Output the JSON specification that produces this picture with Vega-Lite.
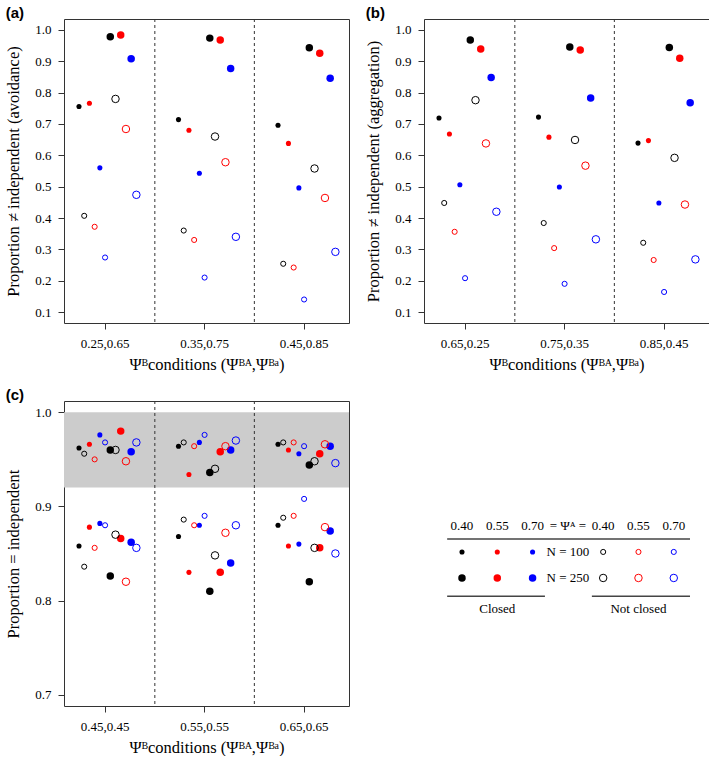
{
  "$schema": "https://vega.github.io/schema/vega-lite/v6.json",
  "padding": {"left": 5, "top": 5, "right": 0, "bottom": 0},
  "config": {
    "view": {"stroke": "#333333", "strokeWidth": 1},
    "axis": {"domain": false, "grid": false, "tickColor": "#333333", "tickSize": 6, "labelFont": "Liberation Serif", "labelFontSize": 13, "labelColor": "#000000", "titleFont": "Liberation Serif", "titleFontSize": 16.5, "titleFontWeight": "normal", "titleColor": "#000000", "labelFlush": false, "labelOverlap": false},
    "title": {"font": "Liberation Sans", "fontSize": 15, "fontWeight": "bold", "anchor": "start", "frame": "bounds", "offset": -2, "color": "#000000"}
  },
  "datasets": {
    "pts": [
      {"p":"a","c":"0.25,0.65","k":"s40c","A":"0.40","N":100,"cl":"C","v":0.756},
      {"p":"a","c":"0.25,0.65","k":"s40o","A":"0.40","N":100,"cl":"O","v":0.407},
      {"p":"a","c":"0.25,0.65","k":"s55c","A":"0.55","N":100,"cl":"C","v":0.766},
      {"p":"a","c":"0.25,0.65","k":"s55o","A":"0.55","N":100,"cl":"O","v":0.372},
      {"p":"a","c":"0.25,0.65","k":"s70c","A":"0.70","N":100,"cl":"C","v":0.560},
      {"p":"a","c":"0.25,0.65","k":"s70o","A":"0.70","N":100,"cl":"O","v":0.274},
      {"p":"a","c":"0.25,0.65","k":"l40c","A":"0.40","N":250,"cl":"C","v":0.978},
      {"p":"a","c":"0.25,0.65","k":"l40o","A":"0.40","N":250,"cl":"O","v":0.780},
      {"p":"a","c":"0.25,0.65","k":"l55c","A":"0.55","N":250,"cl":"C","v":0.984},
      {"p":"a","c":"0.25,0.65","k":"l55o","A":"0.55","N":250,"cl":"O","v":0.684},
      {"p":"a","c":"0.25,0.65","k":"l70c","A":"0.70","N":250,"cl":"C","v":0.908},
      {"p":"a","c":"0.25,0.65","k":"l70o","A":"0.70","N":250,"cl":"O","v":0.474},
      {"p":"a","c":"0.35,0.75","k":"s40c","A":"0.40","N":100,"cl":"C","v":0.714},
      {"p":"a","c":"0.35,0.75","k":"s40o","A":"0.40","N":100,"cl":"O","v":0.360},
      {"p":"a","c":"0.35,0.75","k":"s55c","A":"0.55","N":100,"cl":"C","v":0.680},
      {"p":"a","c":"0.35,0.75","k":"s55o","A":"0.55","N":100,"cl":"O","v":0.330},
      {"p":"a","c":"0.35,0.75","k":"s70c","A":"0.70","N":100,"cl":"C","v":0.543},
      {"p":"a","c":"0.35,0.75","k":"s70o","A":"0.70","N":100,"cl":"O","v":0.210},
      {"p":"a","c":"0.35,0.75","k":"l40c","A":"0.40","N":250,"cl":"C","v":0.974},
      {"p":"a","c":"0.35,0.75","k":"l40o","A":"0.40","N":250,"cl":"O","v":0.660},
      {"p":"a","c":"0.35,0.75","k":"l55c","A":"0.55","N":250,"cl":"C","v":0.968},
      {"p":"a","c":"0.35,0.75","k":"l55o","A":"0.55","N":250,"cl":"O","v":0.578},
      {"p":"a","c":"0.35,0.75","k":"l70c","A":"0.70","N":250,"cl":"C","v":0.877},
      {"p":"a","c":"0.35,0.75","k":"l70o","A":"0.70","N":250,"cl":"O","v":0.340},
      {"p":"a","c":"0.45,0.85","k":"s40c","A":"0.40","N":100,"cl":"C","v":0.696},
      {"p":"a","c":"0.45,0.85","k":"s40o","A":"0.40","N":100,"cl":"O","v":0.254},
      {"p":"a","c":"0.45,0.85","k":"s55c","A":"0.55","N":100,"cl":"C","v":0.638},
      {"p":"a","c":"0.45,0.85","k":"s55o","A":"0.55","N":100,"cl":"O","v":0.242},
      {"p":"a","c":"0.45,0.85","k":"s70c","A":"0.70","N":100,"cl":"C","v":0.496},
      {"p":"a","c":"0.45,0.85","k":"s70o","A":"0.70","N":100,"cl":"O","v":0.140},
      {"p":"a","c":"0.45,0.85","k":"l40c","A":"0.40","N":250,"cl":"C","v":0.943},
      {"p":"a","c":"0.45,0.85","k":"l40o","A":"0.40","N":250,"cl":"O","v":0.558},
      {"p":"a","c":"0.45,0.85","k":"l55c","A":"0.55","N":250,"cl":"C","v":0.926},
      {"p":"a","c":"0.45,0.85","k":"l55o","A":"0.55","N":250,"cl":"O","v":0.464},
      {"p":"a","c":"0.45,0.85","k":"l70c","A":"0.70","N":250,"cl":"C","v":0.846},
      {"p":"a","c":"0.45,0.85","k":"l70o","A":"0.70","N":250,"cl":"O","v":0.292},

      {"p":"b","c":"0.65,0.25","k":"s40c","A":"0.40","N":100,"cl":"C","v":0.719},
      {"p":"b","c":"0.65,0.25","k":"s40o","A":"0.40","N":100,"cl":"O","v":0.448},
      {"p":"b","c":"0.65,0.25","k":"s55c","A":"0.55","N":100,"cl":"C","v":0.668},
      {"p":"b","c":"0.65,0.25","k":"s55o","A":"0.55","N":100,"cl":"O","v":0.356},
      {"p":"b","c":"0.65,0.25","k":"s70c","A":"0.70","N":100,"cl":"C","v":0.506},
      {"p":"b","c":"0.65,0.25","k":"s70o","A":"0.70","N":100,"cl":"O","v":0.208},
      {"p":"b","c":"0.65,0.25","k":"l40c","A":"0.40","N":250,"cl":"C","v":0.968},
      {"p":"b","c":"0.65,0.25","k":"l40o","A":"0.40","N":250,"cl":"O","v":0.776},
      {"p":"b","c":"0.65,0.25","k":"l55c","A":"0.55","N":250,"cl":"C","v":0.939},
      {"p":"b","c":"0.65,0.25","k":"l55o","A":"0.55","N":250,"cl":"O","v":0.638},
      {"p":"b","c":"0.65,0.25","k":"l70c","A":"0.70","N":250,"cl":"C","v":0.848},
      {"p":"b","c":"0.65,0.25","k":"l70o","A":"0.70","N":250,"cl":"O","v":0.420},
      {"p":"b","c":"0.75,0.35","k":"s40c","A":"0.40","N":100,"cl":"C","v":0.722},
      {"p":"b","c":"0.75,0.35","k":"s40o","A":"0.40","N":100,"cl":"O","v":0.384},
      {"p":"b","c":"0.75,0.35","k":"s55c","A":"0.55","N":100,"cl":"C","v":0.658},
      {"p":"b","c":"0.75,0.35","k":"s55o","A":"0.55","N":100,"cl":"O","v":0.304},
      {"p":"b","c":"0.75,0.35","k":"s70c","A":"0.70","N":100,"cl":"C","v":0.499},
      {"p":"b","c":"0.75,0.35","k":"s70o","A":"0.70","N":100,"cl":"O","v":0.190},
      {"p":"b","c":"0.75,0.35","k":"l40c","A":"0.40","N":250,"cl":"C","v":0.946},
      {"p":"b","c":"0.75,0.35","k":"l40o","A":"0.40","N":250,"cl":"O","v":0.649},
      {"p":"b","c":"0.75,0.35","k":"l55c","A":"0.55","N":250,"cl":"C","v":0.936},
      {"p":"b","c":"0.75,0.35","k":"l55o","A":"0.55","N":250,"cl":"O","v":0.567},
      {"p":"b","c":"0.75,0.35","k":"l70c","A":"0.70","N":250,"cl":"C","v":0.783},
      {"p":"b","c":"0.75,0.35","k":"l70o","A":"0.70","N":250,"cl":"O","v":0.332},
      {"p":"b","c":"0.85,0.45","k":"s40c","A":"0.40","N":100,"cl":"C","v":0.639},
      {"p":"b","c":"0.85,0.45","k":"s40o","A":"0.40","N":100,"cl":"O","v":0.321},
      {"p":"b","c":"0.85,0.45","k":"s55c","A":"0.55","N":100,"cl":"C","v":0.647},
      {"p":"b","c":"0.85,0.45","k":"s55o","A":"0.55","N":100,"cl":"O","v":0.266},
      {"p":"b","c":"0.85,0.45","k":"s70c","A":"0.70","N":100,"cl":"C","v":0.448},
      {"p":"b","c":"0.85,0.45","k":"s70o","A":"0.70","N":100,"cl":"O","v":0.164},
      {"p":"b","c":"0.85,0.45","k":"l40c","A":"0.40","N":250,"cl":"C","v":0.944},
      {"p":"b","c":"0.85,0.45","k":"l40o","A":"0.40","N":250,"cl":"O","v":0.592},
      {"p":"b","c":"0.85,0.45","k":"l55c","A":"0.55","N":250,"cl":"C","v":0.910},
      {"p":"b","c":"0.85,0.45","k":"l55o","A":"0.55","N":250,"cl":"O","v":0.443},
      {"p":"b","c":"0.85,0.45","k":"l70c","A":"0.70","N":250,"cl":"C","v":0.768},
      {"p":"b","c":"0.85,0.45","k":"l70o","A":"0.70","N":250,"cl":"O","v":0.268},

      {"p":"c","c":"0.45,0.45","k":"s40c","A":"0.40","N":100,"cl":"C","v":0.962},
      {"p":"c","c":"0.45,0.45","k":"s40o","A":"0.40","N":100,"cl":"O","v":0.956},
      {"p":"c","c":"0.45,0.45","k":"s55c","A":"0.55","N":100,"cl":"C","v":0.966},
      {"p":"c","c":"0.45,0.45","k":"s55o","A":"0.55","N":100,"cl":"O","v":0.950},
      {"p":"c","c":"0.45,0.45","k":"s70c","A":"0.70","N":100,"cl":"C","v":0.976},
      {"p":"c","c":"0.45,0.45","k":"s70o","A":"0.70","N":100,"cl":"O","v":0.968},
      {"p":"c","c":"0.45,0.45","k":"l40c","A":"0.40","N":250,"cl":"C","v":0.960},
      {"p":"c","c":"0.45,0.45","k":"l40o","A":"0.40","N":250,"cl":"O","v":0.960},
      {"p":"c","c":"0.45,0.45","k":"l55c","A":"0.55","N":250,"cl":"C","v":0.980},
      {"p":"c","c":"0.45,0.45","k":"l55o","A":"0.55","N":250,"cl":"O","v":0.948},
      {"p":"c","c":"0.45,0.45","k":"l70c","A":"0.70","N":250,"cl":"C","v":0.958},
      {"p":"c","c":"0.45,0.45","k":"l70o","A":"0.70","N":250,"cl":"O","v":0.968},
      {"p":"c","c":"0.45,0.45","k":"s40c","A":"0.40","N":100,"cl":"C","v":0.858},
      {"p":"c","c":"0.45,0.45","k":"s40o","A":"0.40","N":100,"cl":"O","v":0.836},
      {"p":"c","c":"0.45,0.45","k":"s55c","A":"0.55","N":100,"cl":"C","v":0.878},
      {"p":"c","c":"0.45,0.45","k":"s55o","A":"0.55","N":100,"cl":"O","v":0.856},
      {"p":"c","c":"0.45,0.45","k":"s70c","A":"0.70","N":100,"cl":"C","v":0.882},
      {"p":"c","c":"0.45,0.45","k":"s70o","A":"0.70","N":100,"cl":"O","v":0.880},
      {"p":"c","c":"0.45,0.45","k":"l40c","A":"0.40","N":250,"cl":"C","v":0.826},
      {"p":"c","c":"0.45,0.45","k":"l40o","A":"0.40","N":250,"cl":"O","v":0.870},
      {"p":"c","c":"0.45,0.45","k":"l55c","A":"0.55","N":250,"cl":"C","v":0.866},
      {"p":"c","c":"0.45,0.45","k":"l55o","A":"0.55","N":250,"cl":"O","v":0.820},
      {"p":"c","c":"0.45,0.45","k":"l70c","A":"0.70","N":250,"cl":"C","v":0.862},
      {"p":"c","c":"0.45,0.45","k":"l70o","A":"0.70","N":250,"cl":"O","v":0.856},
      {"p":"c","c":"0.55,0.55","k":"s40c","A":"0.40","N":100,"cl":"C","v":0.964},
      {"p":"c","c":"0.55,0.55","k":"s40o","A":"0.40","N":100,"cl":"O","v":0.968},
      {"p":"c","c":"0.55,0.55","k":"s55c","A":"0.55","N":100,"cl":"C","v":0.934},
      {"p":"c","c":"0.55,0.55","k":"s55o","A":"0.55","N":100,"cl":"O","v":0.964},
      {"p":"c","c":"0.55,0.55","k":"s70c","A":"0.70","N":100,"cl":"C","v":0.968},
      {"p":"c","c":"0.55,0.55","k":"s70o","A":"0.70","N":100,"cl":"O","v":0.976},
      {"p":"c","c":"0.55,0.55","k":"l40c","A":"0.40","N":250,"cl":"C","v":0.936},
      {"p":"c","c":"0.55,0.55","k":"l40o","A":"0.40","N":250,"cl":"O","v":0.940},
      {"p":"c","c":"0.55,0.55","k":"l55c","A":"0.55","N":250,"cl":"C","v":0.958},
      {"p":"c","c":"0.55,0.55","k":"l55o","A":"0.55","N":250,"cl":"O","v":0.964},
      {"p":"c","c":"0.55,0.55","k":"l70c","A":"0.70","N":250,"cl":"C","v":0.960},
      {"p":"c","c":"0.55,0.55","k":"l70o","A":"0.70","N":250,"cl":"O","v":0.970},
      {"p":"c","c":"0.55,0.55","k":"s40c","A":"0.40","N":100,"cl":"C","v":0.868},
      {"p":"c","c":"0.55,0.55","k":"s40o","A":"0.40","N":100,"cl":"O","v":0.886},
      {"p":"c","c":"0.55,0.55","k":"s55c","A":"0.55","N":100,"cl":"C","v":0.830},
      {"p":"c","c":"0.55,0.55","k":"s55o","A":"0.55","N":100,"cl":"O","v":0.880},
      {"p":"c","c":"0.55,0.55","k":"s70c","A":"0.70","N":100,"cl":"C","v":0.880},
      {"p":"c","c":"0.55,0.55","k":"s70o","A":"0.70","N":100,"cl":"O","v":0.890},
      {"p":"c","c":"0.55,0.55","k":"l40c","A":"0.40","N":250,"cl":"C","v":0.810},
      {"p":"c","c":"0.55,0.55","k":"l40o","A":"0.40","N":250,"cl":"O","v":0.848},
      {"p":"c","c":"0.55,0.55","k":"l55c","A":"0.55","N":250,"cl":"C","v":0.830},
      {"p":"c","c":"0.55,0.55","k":"l55o","A":"0.55","N":250,"cl":"O","v":0.872},
      {"p":"c","c":"0.55,0.55","k":"l70c","A":"0.70","N":250,"cl":"C","v":0.840},
      {"p":"c","c":"0.55,0.55","k":"l70o","A":"0.70","N":250,"cl":"O","v":0.880},
      {"p":"c","c":"0.65,0.65","k":"s40c","A":"0.40","N":100,"cl":"C","v":0.966},
      {"p":"c","c":"0.65,0.65","k":"s40o","A":"0.40","N":100,"cl":"O","v":0.968},
      {"p":"c","c":"0.65,0.65","k":"s55c","A":"0.55","N":100,"cl":"C","v":0.960},
      {"p":"c","c":"0.65,0.65","k":"s55o","A":"0.55","N":100,"cl":"O","v":0.968},
      {"p":"c","c":"0.65,0.65","k":"s70c","A":"0.70","N":100,"cl":"C","v":0.956},
      {"p":"c","c":"0.65,0.65","k":"s70o","A":"0.70","N":100,"cl":"O","v":0.964},
      {"p":"c","c":"0.65,0.65","k":"l40c","A":"0.40","N":250,"cl":"C","v":0.944},
      {"p":"c","c":"0.65,0.65","k":"l40o","A":"0.40","N":250,"cl":"O","v":0.948},
      {"p":"c","c":"0.65,0.65","k":"l55c","A":"0.55","N":250,"cl":"C","v":0.956},
      {"p":"c","c":"0.65,0.65","k":"l55o","A":"0.55","N":250,"cl":"O","v":0.966},
      {"p":"c","c":"0.65,0.65","k":"l70c","A":"0.70","N":250,"cl":"C","v":0.964},
      {"p":"c","c":"0.65,0.65","k":"l70o","A":"0.70","N":250,"cl":"O","v":0.946},
      {"p":"c","c":"0.65,0.65","k":"s40c","A":"0.40","N":100,"cl":"C","v":0.880},
      {"p":"c","c":"0.65,0.65","k":"s40o","A":"0.40","N":100,"cl":"O","v":0.888},
      {"p":"c","c":"0.65,0.65","k":"s55c","A":"0.55","N":100,"cl":"C","v":0.858},
      {"p":"c","c":"0.65,0.65","k":"s55o","A":"0.55","N":100,"cl":"O","v":0.890},
      {"p":"c","c":"0.65,0.65","k":"s70c","A":"0.70","N":100,"cl":"C","v":0.860},
      {"p":"c","c":"0.65,0.65","k":"s70o","A":"0.70","N":100,"cl":"O","v":0.908},
      {"p":"c","c":"0.65,0.65","k":"l40c","A":"0.40","N":250,"cl":"C","v":0.820},
      {"p":"c","c":"0.65,0.65","k":"l40o","A":"0.40","N":250,"cl":"O","v":0.856},
      {"p":"c","c":"0.65,0.65","k":"l55c","A":"0.55","N":250,"cl":"C","v":0.856},
      {"p":"c","c":"0.65,0.65","k":"l55o","A":"0.55","N":250,"cl":"O","v":0.878},
      {"p":"c","c":"0.65,0.65","k":"l70c","A":"0.70","N":250,"cl":"C","v":0.874},
      {"p":"c","c":"0.65,0.65","k":"l70o","A":"0.70","N":250,"cl":"O","v":0.850}
    ],
    "legText": [
      {"col":0,"r":0,"t":"0.40"},{"col":1,"r":0,"t":"0.55"},{"col":2,"r":0,"t":"0.70"},
      {"col":3,"r":0,"t":"= Ψᴬ ="},
      {"col":4,"r":0,"t":"0.40"},{"col":5,"r":0,"t":"0.55"},{"col":6,"r":0,"t":"0.70"},
      {"col":3,"r":1,"t":"N = 100"},{"col":3,"r":2,"t":"N = 250"},
      {"col":1,"r":3.2,"t":"Closed"},{"col":5,"r":3.2,"t":"Not closed"}
    ],
    "legPts": [
      {"col":0,"r":1,"A":"0.40","N":100,"cl":"C"},{"col":1,"r":1,"A":"0.55","N":100,"cl":"C"},{"col":2,"r":1,"A":"0.70","N":100,"cl":"C"},
      {"col":4,"r":1,"A":"0.40","N":100,"cl":"O"},{"col":5,"r":1,"A":"0.55","N":100,"cl":"O"},{"col":6,"r":1,"A":"0.70","N":100,"cl":"O"},
      {"col":0,"r":2,"A":"0.40","N":250,"cl":"C"},{"col":1,"r":2,"A":"0.55","N":250,"cl":"C"},{"col":2,"r":2,"A":"0.70","N":250,"cl":"C"},
      {"col":4,"r":2,"A":"0.40","N":250,"cl":"O"},{"col":5,"r":2,"A":"0.55","N":250,"cl":"O"},{"col":6,"r":2,"A":"0.70","N":250,"cl":"O"}
    ],
    "legRules": [
      {"x1":-0.42,"x2":6.46,"r":0.5},
      {"x1":-0.42,"x2":2.35,"r":2.7},
      {"x1":3.68,"x2":6.46,"r":2.7}
    ]
  },
  "spacing": 14,
  "vconcat": [
    {
      "spacing": 15,
      "hconcat": [
        {
          "width": 285, "height": 304, "title": "(a)",
          "layer": [
            {"data": {"values": [{"c":"0.35,0.75"},{"c":"0.45,0.85"}]},
             "mark": {"type": "rule", "strokeDash": [3,3], "color": "#333333"},
             "encoding": {"x": {"field": "c", "type": "nominal", "bandPosition": -0.269, "scale": {"domain": ["0.25,0.65","0.35,0.75","0.45,0.85"], "paddingInner": 0.35, "paddingOuter": 0.107, "align": 0.41}}}},
            {"data": {"name": "pts"}, "transform": [{"filter": "datum.p === 'a' && datum.cl === 'C'"}],
             "mark": {"type": "point", "filled": true, "opacity": 1},
             "encoding": {
               "x": {"field": "c", "type": "nominal", "scale": {"domain": ["0.25,0.65","0.35,0.75","0.45,0.85"], "paddingInner": 0.35, "paddingOuter": 0.107, "align": 0.41}, "axis": {"title": "Ψᴮconditions (Ψᴮᴬ,Ψᴮᵃ)", "labelAngle": 0, "labelAlign": "center", "labelBaseline": "top", "labelFont": "Liberation Serif", "labelFontSize": 13, "labelPadding": 8, "titlePadding": 6}},
               "xOffset": {"field": "k", "type": "nominal", "scale": {"domain": ["_","s40c","s40o","s55c","s55o","s70c","s70o","l40c","l40o","l55c","l55o","l70c","l70o"], "paddingInner": 0, "paddingOuter": 0.2}},
               "y": {"field": "v", "type": "quantitative", "scale": {"domain": [0.065, 1.035], "nice": false, "zero": false}, "axis": {"values": [0.1,0.2,0.3,0.4,0.5,0.6,0.7,0.8,0.9,1.0], "format": ".1f", "title": "Proportion ≠ independent (avoidance)", "labelFont": "Liberation Serif", "labelFontSize": 13, "labelOverlap": false, "labelPadding": 7, "titlePadding": 13}},
               "color": {"field": "A", "type": "nominal", "scale": {"domain": ["0.40","0.55","0.70"], "range": ["#000000","#ff0000","#0000ff"]}, "legend": null},
               "size": {"field": "N", "type": "quantitative", "scale": {"type": "linear", "domain": [100, 250], "range": [26, 56], "zero": false}, "legend": null}
             }},
            {"data": {"name": "pts"}, "transform": [{"filter": "datum.p === 'a' && datum.cl === 'O'"}],
             "mark": {"type": "point", "filled": false, "opacity": 1, "strokeWidth": 1},
             "encoding": {
               "x": {"field": "c", "type": "nominal", "scale": {"domain": ["0.25,0.65","0.35,0.75","0.45,0.85"], "paddingInner": 0.35, "paddingOuter": 0.107, "align": 0.41}, "axis": {"title": "Ψᴮconditions (Ψᴮᴬ,Ψᴮᵃ)", "labelAngle": 0, "labelAlign": "center", "labelBaseline": "top", "labelFont": "Liberation Serif", "labelFontSize": 13, "labelPadding": 8, "titlePadding": 6}},
               "xOffset": {"field": "k", "type": "nominal", "scale": {"domain": ["_","s40c","s40o","s55c","s55o","s70c","s70o","l40c","l40o","l55c","l55o","l70c","l70o"], "paddingInner": 0, "paddingOuter": 0.2}},
               "y": {"field": "v", "type": "quantitative", "scale": {"domain": [0.065, 1.035], "nice": false, "zero": false}, "axis": {"values": [0.1,0.2,0.3,0.4,0.5,0.6,0.7,0.8,0.9,1.0], "format": ".1f", "title": "Proportion ≠ independent (avoidance)", "labelFont": "Liberation Serif", "labelFontSize": 13, "labelOverlap": false, "labelPadding": 7, "titlePadding": 13}},
               "color": {"field": "A", "type": "nominal", "scale": {"domain": ["0.40","0.55","0.70"], "range": ["#000000","#ff0000","#0000ff"]}, "legend": null},
               "size": {"field": "N", "type": "quantitative", "scale": {"type": "linear", "domain": [100, 250], "range": [26, 56], "zero": false}, "legend": null}
             }}
          ]
        },
        {
          "width": 285, "height": 304, "title": "(b)",
          "layer": [
            {"data": {"values": [{"c":"0.75,0.35"},{"c":"0.85,0.45"}]},
             "mark": {"type": "rule", "strokeDash": [3,3], "color": "#333333"},
             "encoding": {"x": {"field": "c", "type": "nominal", "bandPosition": -0.269, "scale": {"domain": ["0.65,0.25","0.75,0.35","0.85,0.45"], "paddingInner": 0.35, "paddingOuter": 0.107, "align": 0.41}}}},
            {"data": {"name": "pts"}, "transform": [{"filter": "datum.p === 'b' && datum.cl === 'C'"}],
             "mark": {"type": "point", "filled": true, "opacity": 1},
             "encoding": {
               "x": {"field": "c", "type": "nominal", "scale": {"domain": ["0.65,0.25","0.75,0.35","0.85,0.45"], "paddingInner": 0.35, "paddingOuter": 0.107, "align": 0.41}, "axis": {"title": "Ψᴮconditions (Ψᴮᴬ,Ψᴮᵃ)", "labelAngle": 0, "labelAlign": "center", "labelBaseline": "top", "labelFont": "Liberation Serif", "labelFontSize": 13, "labelPadding": 8, "titlePadding": 6}},
               "xOffset": {"field": "k", "type": "nominal", "scale": {"domain": ["_","s40c","s40o","s55c","s55o","s70c","s70o","l40c","l40o","l55c","l55o","l70c","l70o"], "paddingInner": 0, "paddingOuter": 0.2}},
               "y": {"field": "v", "type": "quantitative", "scale": {"domain": [0.065, 1.035], "nice": false, "zero": false}, "axis": {"values": [0.1,0.2,0.3,0.4,0.5,0.6,0.7,0.8,0.9,1.0], "format": ".1f", "title": "Proportion ≠ independent (aggregation)", "labelFont": "Liberation Serif", "labelFontSize": 13, "labelOverlap": false, "labelPadding": 7, "titlePadding": 13}},
               "color": {"field": "A", "type": "nominal", "scale": {"domain": ["0.40","0.55","0.70"], "range": ["#000000","#ff0000","#0000ff"]}, "legend": null},
               "size": {"field": "N", "type": "quantitative", "scale": {"type": "linear", "domain": [100, 250], "range": [26, 56], "zero": false}, "legend": null}
             }},
            {"data": {"name": "pts"}, "transform": [{"filter": "datum.p === 'b' && datum.cl === 'O'"}],
             "mark": {"type": "point", "filled": false, "opacity": 1, "strokeWidth": 1},
             "encoding": {
               "x": {"field": "c", "type": "nominal", "scale": {"domain": ["0.65,0.25","0.75,0.35","0.85,0.45"], "paddingInner": 0.35, "paddingOuter": 0.107, "align": 0.41}, "axis": {"title": "Ψᴮconditions (Ψᴮᴬ,Ψᴮᵃ)", "labelAngle": 0, "labelAlign": "center", "labelBaseline": "top", "labelFont": "Liberation Serif", "labelFontSize": 13, "labelPadding": 8, "titlePadding": 6}},
               "xOffset": {"field": "k", "type": "nominal", "scale": {"domain": ["_","s40c","s40o","s55c","s55o","s70c","s70o","l40c","l40o","l55c","l55o","l70c","l70o"], "paddingInner": 0, "paddingOuter": 0.2}},
               "y": {"field": "v", "type": "quantitative", "scale": {"domain": [0.065, 1.035], "nice": false, "zero": false}, "axis": {"values": [0.1,0.2,0.3,0.4,0.5,0.6,0.7,0.8,0.9,1.0], "format": ".1f", "title": "Proportion ≠ independent (aggregation)", "labelFont": "Liberation Serif", "labelFontSize": 13, "labelOverlap": false, "labelPadding": 7, "titlePadding": 13}},
               "color": {"field": "A", "type": "nominal", "scale": {"domain": ["0.40","0.55","0.70"], "range": ["#000000","#ff0000","#0000ff"]}, "legend": null},
               "size": {"field": "N", "type": "quantitative", "scale": {"type": "linear", "domain": [100, 250], "range": [26, 56], "zero": false}, "legend": null}
             }}
          ]
        }
      ]
    },
    {
      "spacing": 72,
      "hconcat": [
        {
          "width": 285, "height": 305, "title": "(c)",
          "layer": [
            {"data": {"values": [{"lo": 0.92, "hi": 1.0}]},
             "mark": {"type": "rect", "color": "#cccccc"},
             "encoding": {"y": {"field": "lo", "type": "quantitative", "scale": {"domain": [0.688, 1.012], "nice": false, "zero": false}, "axis": {"values": [0.7,0.8,0.9,1.0], "format": ".1f", "title": "Proportion = independent", "labelFont": "Liberation Serif", "labelFontSize": 13, "labelOverlap": false, "labelPadding": 7, "titlePadding": 13}}, "y2": {"field": "hi"}}},
            {"data": {"values": [{"c":"0.55,0.55"},{"c":"0.65,0.65"}]},
             "mark": {"type": "rule", "strokeDash": [3,3], "color": "#333333"},
             "encoding": {"x": {"field": "c", "type": "nominal", "bandPosition": -0.269, "scale": {"domain": ["0.45,0.45","0.55,0.55","0.65,0.65"], "paddingInner": 0.35, "paddingOuter": 0.107, "align": 0.41}}}},
            {"data": {"name": "pts"}, "transform": [{"filter": "datum.p === 'c' && datum.cl === 'C'"}],
             "mark": {"type": "point", "filled": true, "opacity": 1},
             "encoding": {
               "x": {"field": "c", "type": "nominal", "scale": {"domain": ["0.45,0.45","0.55,0.55","0.65,0.65"], "paddingInner": 0.35, "paddingOuter": 0.107, "align": 0.41}, "axis": {"title": "Ψᴮconditions (Ψᴮᴬ,Ψᴮᵃ)", "labelAngle": 0, "labelAlign": "center", "labelBaseline": "top", "labelFont": "Liberation Serif", "labelFontSize": 13, "labelPadding": 8, "titlePadding": 6}},
               "xOffset": {"field": "k", "type": "nominal", "scale": {"domain": ["_","s40c","s40o","s55c","s55o","s70c","s70o","l40c","l40o","l55c","l55o","l70c","l70o"], "paddingInner": 0, "paddingOuter": 0.2}},
               "y": {"field": "v", "type": "quantitative", "scale": {"domain": [0.688, 1.012], "nice": false, "zero": false}, "axis": {"values": [0.7,0.8,0.9,1.0], "format": ".1f", "title": "Proportion = independent", "labelFont": "Liberation Serif", "labelFontSize": 13, "labelOverlap": false, "labelPadding": 7, "titlePadding": 13}},
               "color": {"field": "A", "type": "nominal", "scale": {"domain": ["0.40","0.55","0.70"], "range": ["#000000","#ff0000","#0000ff"]}, "legend": null},
               "size": {"field": "N", "type": "quantitative", "scale": {"type": "linear", "domain": [100, 250], "range": [26, 56], "zero": false}, "legend": null}
             }},
            {"data": {"name": "pts"}, "transform": [{"filter": "datum.p === 'c' && datum.cl === 'O'"}],
             "mark": {"type": "point", "filled": false, "opacity": 1, "strokeWidth": 1},
             "encoding": {
               "x": {"field": "c", "type": "nominal", "scale": {"domain": ["0.45,0.45","0.55,0.55","0.65,0.65"], "paddingInner": 0.35, "paddingOuter": 0.107, "align": 0.41}, "axis": {"title": "Ψᴮconditions (Ψᴮᴬ,Ψᴮᵃ)", "labelAngle": 0, "labelAlign": "center", "labelBaseline": "top", "labelFont": "Liberation Serif", "labelFontSize": 13, "labelPadding": 8, "titlePadding": 6}},
               "xOffset": {"field": "k", "type": "nominal", "scale": {"domain": ["_","s40c","s40o","s55c","s55o","s70c","s70o","l40c","l40o","l55c","l55o","l70c","l70o"], "paddingInner": 0, "paddingOuter": 0.2}},
               "y": {"field": "v", "type": "quantitative", "scale": {"domain": [0.688, 1.012], "nice": false, "zero": false}, "axis": {"values": [0.7,0.8,0.9,1.0], "format": ".1f", "title": "Proportion = independent", "labelFont": "Liberation Serif", "labelFontSize": 13, "labelOverlap": false, "labelPadding": 7, "titlePadding": 13}},
               "color": {"field": "A", "type": "nominal", "scale": {"domain": ["0.40","0.55","0.70"], "range": ["#000000","#ff0000","#0000ff"]}, "legend": null},
               "size": {"field": "N", "type": "quantitative", "scale": {"type": "linear", "domain": [100, 250], "range": [26, 56], "zero": false}, "legend": null}
             }}
          ]
        },
        {
          "width": 280, "height": 305,
          "view": {"stroke": null},
          "layer": [
            {"data": {"name": "legRules"},
             "mark": {"type": "rule", "color": "#444444", "strokeWidth": 1.5},
             "encoding": {
               "x": {"field": "x1", "type": "quantitative", "scale": {"domain": [-1.133, 6.8], "nice": false, "zero": false}, "axis": null},
               "x2": {"field": "x2"},
               "y": {"field": "r", "type": "quantitative", "scale": {"domain": [-4.8, 6.92], "reverse": true, "nice": false, "zero": false}, "axis": null}
             }},
            {"data": {"name": "legText"},
             "mark": {"type": "text", "font": "Liberation Serif", "fontSize": 13, "baseline": "middle", "align": "center", "color": "#000000"},
             "encoding": {
               "x": {"field": "col", "type": "quantitative", "axis": null},
               "y": {"field": "r", "type": "quantitative", "axis": null},
               "text": {"field": "t"}
             }},
            {"data": {"name": "legPts"}, "transform": [{"filter": "datum.cl === 'C'"}],
             "mark": {"type": "point", "filled": true, "opacity": 1},
             "encoding": {
               "x": {"field": "col", "type": "quantitative", "axis": null},
               "y": {"field": "r", "type": "quantitative", "axis": null},
               "color": {"field": "A", "type": "nominal", "scale": {"domain": ["0.40","0.55","0.70"], "range": ["#000000","#ff0000","#0000ff"]}, "legend": null},
               "size": {"field": "N", "type": "quantitative", "scale": {"type": "linear", "domain": [100, 250], "range": [26, 56], "zero": false}, "legend": null}
             }},
            {"data": {"name": "legPts"}, "transform": [{"filter": "datum.cl === 'O'"}],
             "mark": {"type": "point", "filled": false, "opacity": 1, "strokeWidth": 1},
             "encoding": {
               "x": {"field": "col", "type": "quantitative", "axis": null},
               "y": {"field": "r", "type": "quantitative", "axis": null},
               "color": {"field": "A", "type": "nominal", "legend": null},
               "size": {"field": "N", "type": "quantitative", "legend": null}
             }}
          ]
        }
      ]
    }
  ]
}
